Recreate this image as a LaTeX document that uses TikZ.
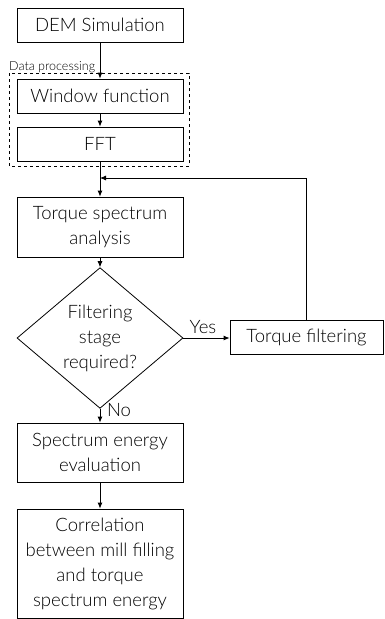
\documentclass[tikz,border=0pt]{standalone}
\usepackage{fontspec}
\setmainfont{Lato}[UprightFont=* Light]
\usetikzlibrary{shapes.geometric,arrows.meta}
\begin{document}
\begin{tikzpicture}[x=1pt,y=-1pt,
  box/.style={draw, line width=0.8pt, minimum width=166pt, align=center, inner sep=0pt, font=\fontsize{18.5}{25}\selectfont},
  dec/.style={draw, line width=0.8pt, shape=diamond, minimum width=166pt, minimum height=123pt, inner sep=0pt, align=center, font=\fontsize{18.5}{25}\selectfont},
  arr/.style={-{Latex[length=6pt,width=5pt]}, line width=0.8pt},
  lbl/.style={font=\fontsize{18.5}{25}\selectfont, inner sep=0pt}]
\useasboundingbox (0,0) rectangle (385,619);
\node[box, minimum height=34pt] (dem) at (100,25) {DEM Simulation};
\node[box, minimum height=34pt] (win) at (100,96) {Window function};
\node[box, minimum height=34pt] (fft) at (100,144) {FFT};
\draw[dashed, line width=0.8pt] (9,73) rectangle (189,166);
\node[anchor=base west, inner sep=0pt, font=\fontsize{12.5}{14}\selectfont] (dp) at (9,70) {Data processing};
\node[box, minimum height=60pt] (tsa) at (100,227) {Torque spectrum\\analysis};
\node[dec] (fil) at (100,338) {Filtering\\stage\\required?};
\node[box, minimum width=153pt, minimum height=34pt] (tf) at (306.5,337) {Torque filtering};
\node[box, minimum height=59pt] (see) at (100,452.5) {Spectrum energy\\evaluation};
\node[box, minimum height=109pt] (cor) at (100,563.5) {Correlation\\between mill filling\\and torque\\spectrum energy};
\coordinate (fb) at (100,178);
\draw[arr] (dem) -- (win);
\draw[arr] (win) -- (fft);
\draw[arr] (fft) -- (tsa);
\draw[arr] (tsa) -- (fil);
\draw[arr] (fil.east) -- (tf.west |- fil.east);
\draw[arr] (tf.north) |- (fb);
\draw[arr] (fil) -- (see);
\draw[arr] (see) -- (cor);
\node[lbl] (yes) at (203,327) {Yes};
\node[lbl] (no) at (119,410) {No};
\end{tikzpicture}
\end{document}
